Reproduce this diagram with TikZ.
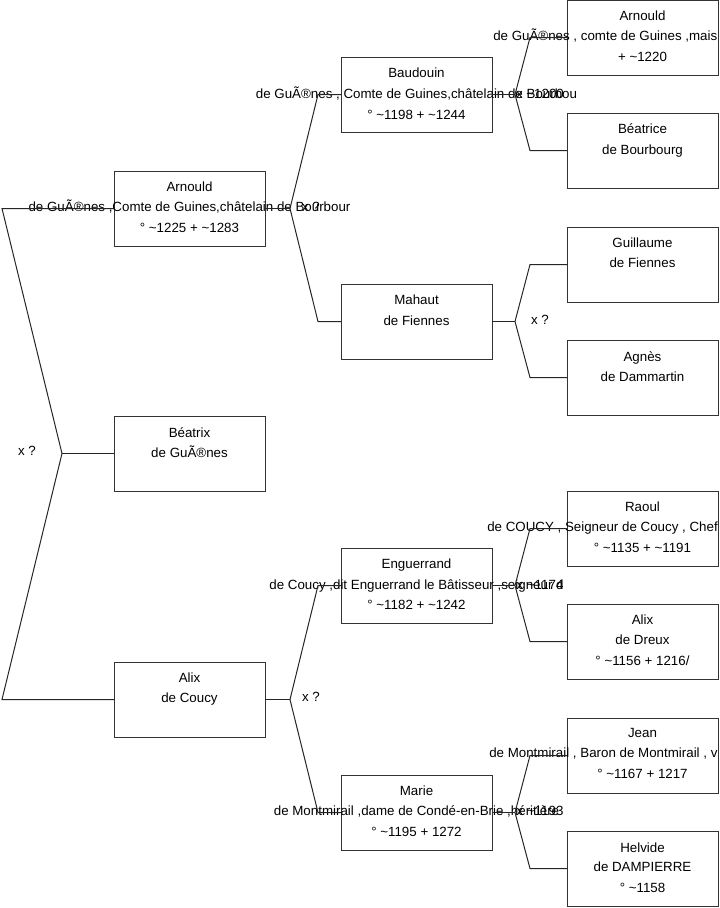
\documentclass[tikz,border=0pt]{standalone}
\usepackage{fontspec}
\setmainfont{Liberation Sans}
\begin{document}
\begin{tikzpicture}[x=0.75pt,y=-0.75pt,
  pbox/.style={draw=black!80, line width=0.75pt, minimum width=113.25pt, minimum height=56.25pt, inner sep=0pt, outer sep=0pt},
  ln/.style={font=\fontsize{10}{12}\selectfont, inner sep=0pt, anchor=base},
  lnw/.style={ln, anchor=base west},
  link/.style={draw=black!85, line width=0.75pt}]
\useasboundingbox (0,0) rectangle (719,908);

% ---------- generation 1 ----------
\node[pbox] (arn1) at (189.5,208.5) {};
\node[ln] (arn1a) at (189.5,191) {Arnould};
\node[ln] (arn1b) at (189.5,211.5) {de GuÃ®nes ,Comte de Guines,châtelain de Bourbour};
\node[ln] (arn1c) at (189.5,232) {° \textasciitilde1225 + \textasciitilde1283};

\node[pbox] (bea1) at (189.5,453.5) {};
\node[ln] (bea1a) at (189.5,437) {Béatrix};
\node[ln] (bea1b) at (189.5,457.5) {de GuÃ®nes};

\node[pbox] (alx1) at (189.5,699.5) {};
\node[ln] (alx1a) at (189.5,682) {Alix};
\node[ln] (alx1b) at (189.5,702.5) {de Coucy};

% ---------- generation 2 ----------
\node[pbox] (bau) at (416.5,94.5) {};
\node[ln] (baua) at (416.5,77.5) {Baudouin};
\node[ln] (baub) at (416.5,98.5) {de GuÃ®nes , Comte de Guines,châtelain de Bourbou};
\node[ln] (bauc) at (416.5,119) {° \textasciitilde1198 + \textasciitilde1244};

\node[pbox] (mah) at (416.5,321.5) {};
\node[ln] (maha) at (416.5,304.5) {Mahaut};
\node[ln] (mahb) at (416.5,325) {de Fiennes};

\node[pbox] (eng) at (416.5,585.5) {};
\node[ln] (enga) at (416.5,568.5) {Enguerrand};
\node[ln] (engb) at (416.5,589) {de Coucy ,dit Enguerrand le Bâtisseur ,seigneur d};
\node[ln] (engc) at (416.5,609.5) {° \textasciitilde1182 + \textasciitilde1242};

\node[pbox] (mar) at (416.5,812.5) {};
\node[ln] (mara) at (416.5,795) {Marie};
\node[ln] (marb) at (416.5,815.5) {de Montmirail ,dame de Condé-en-Brie ,héritière};
\node[ln] (marc) at (416.5,836) {° \textasciitilde1195 + 1272};

% ---------- generation 3 ----------
\node[pbox] (arn2) at (642.5,37.5) {};
\node[ln] (arn2a) at (642.5,20) {Arnould};
\node[lnw] (arn2b) at (493,40.5) {de GuÃ®nes , comte de Guines ,mais};
\node[ln] (arn2c) at (642.5,61) {+ \textasciitilde1220};

\node[pbox] (beac) at (642.5,150.5) {};
\node[ln] (beaca) at (642.5,133) {Béatrice};
\node[ln] (beacb) at (642.5,154) {de Bourbourg};

\node[pbox] (gui) at (642.5,264.5) {};
\node[ln] (guia) at (642.5,247) {Guillaume};
\node[ln] (guib) at (642.5,267.5) {de Fiennes};

\node[pbox] (agn) at (642.5,377.5) {};
\node[ln] (agna) at (642.5,361) {Agnès};
\node[ln] (agnb) at (642.5,381) {de Dammartin};

\node[pbox] (rao) at (642.5,528.5) {};
\node[ln] (raoa) at (642.5,511) {Raoul};
\node[lnw] (raob) at (487,531.5) {de COUCY , Seigneur de Coucy , Chef};
\node[ln] (raoc) at (642.5,552) {° \textasciitilde1135 + \textasciitilde1191};

\node[pbox] (alxd) at (642.5,641.5) {};
\node[ln] (alxda) at (642.5,624) {Alix};
\node[ln] (alxdb) at (642.5,644.5) {de Dreux};
\node[ln] (alxdc) at (642.5,665) {° \textasciitilde1156 + 1216/};

\node[pbox] (jean) at (642.5,755.5) {};
\node[ln] (jeana) at (642.5,737.5) {Jean};
\node[lnw] (jeanb) at (489,757.5) {de Montmirail , Baron de Montmirail , v};
\node[ln] (jeanc) at (642.5,778) {° \textasciitilde1167 + 1217};

\node[pbox] (hel) at (642.5,868.5) {};
\node[ln] (hela) at (642.5,852) {Helvide};
\node[ln] (helb) at (642.5,871.5) {de DAMPIERRE};
\node[ln] (helc) at (642.5,892) {° \textasciitilde1158};

% ---------- connectors ----------
\coordinate (g1) at (62,453.5);
\coordinate (g1t) at (2,208.5);
\coordinate (g1b) at (2,699.5);
\draw[link] (arn1.west) -- (g1t) -- (g1) -- (g1b) -- (alx1.west);
\draw[link] (g1) -- (bea1.west);
\node[ln] (x1) at (27,455) {x ?};

\coordinate (g2a) at (290,208.5);
\coordinate (g2at) at (318,94.5);
\coordinate (g2ab) at (318,321.5);
\draw[link] (arn1.east) -- (g2a);
\draw[link] (bau.west) -- (g2at) -- (g2a) -- (g2ab) -- (mah.west);
\node[ln] (x2a) at (311,211.5) {x ?};

\coordinate (g2b) at (290,699.5);
\coordinate (g2bt) at (318,585.5);
\coordinate (g2bb) at (318,812.5);
\draw[link] (alx1.east) -- (g2b);
\draw[link] (eng.west) -- (g2bt) -- (g2b) -- (g2bb) -- (mar.west);
\node[ln] (x2b) at (311,701.5) {x ?};

\coordinate (g3a) at (515,94.5);
\coordinate (g3at) at (530,37.5);
\coordinate (g3ab) at (530,150.5);
\draw[link] (bau.east) -- (g3a);
\draw[link] (arn2.west) -- (g3at) -- (g3a) -- (g3ab) -- (beac.west);
\node[ln] (x3a) at (540,98.5) {x \textasciitilde1200};

\coordinate (g3b) at (515,321.5);
\coordinate (g3bt) at (530,264.5);
\coordinate (g3bb) at (530,377.5);
\draw[link] (mah.east) -- (g3b);
\draw[link] (gui.west) -- (g3bt) -- (g3b) -- (g3bb) -- (agn.west);
\node[ln] (x3b) at (540,324.5) {x ?};

\coordinate (g3c) at (515,585.5);
\coordinate (g3ct) at (530,528.5);
\coordinate (g3cb) at (530,641.5);
\draw[link] (eng.east) -- (g3c);
\draw[link] (rao.west) -- (g3ct) -- (g3c) -- (g3cb) -- (alxd.west);
\node[ln] (x3c) at (540,589) {x \textasciitilde1174};

\coordinate (g3d) at (515,812.5);
\coordinate (g3dt) at (530,755.5);
\coordinate (g3db) at (530,868.5);
\draw[link] (mar.east) -- (g3d);
\draw[link] (jean.west) -- (g3dt) -- (g3d) -- (g3db) -- (hel.west);
\node[ln] (x3d) at (540,815.5) {x \textasciitilde1193};
\end{tikzpicture}
\end{document}
